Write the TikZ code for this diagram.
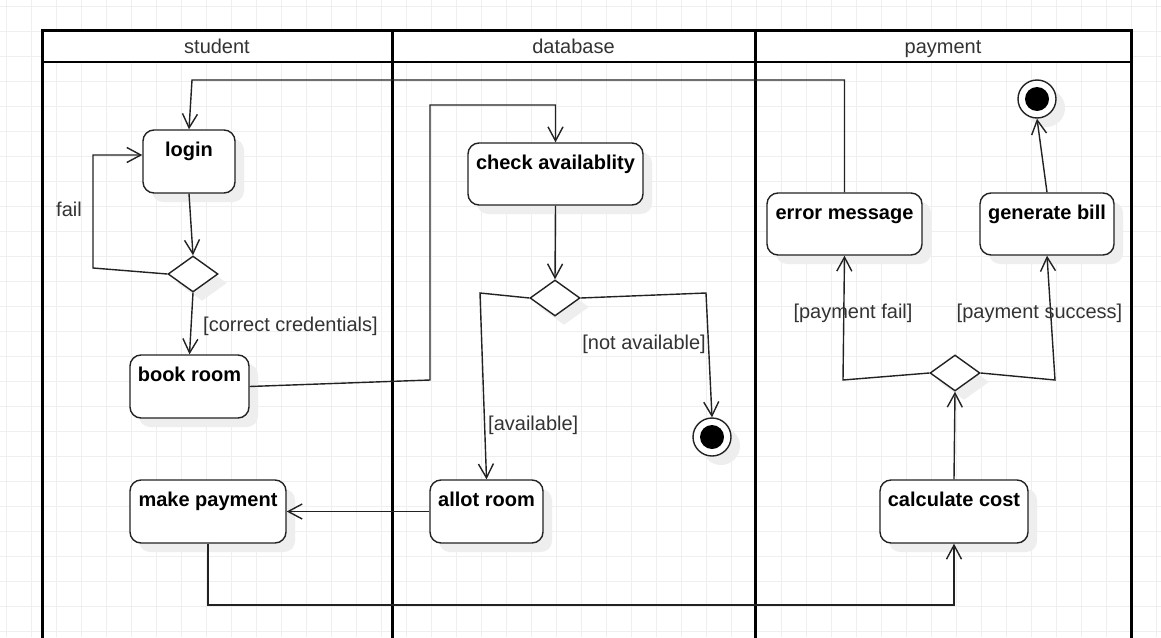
\documentclass[tikz,border=0pt]{standalone}
\usepackage{fontspec}
\setmainfont{Liberation Sans}
\usetikzlibrary{arrows.meta,shapes.geometric,shadows}
\definecolor{gridc}{HTML}{EFEFEF}
\definecolor{txt}{HTML}{333333}
\definecolor{shad}{HTML}{EEEEEE}
\definecolor{ln}{HTML}{222222}
\tikzset{
  x=1pt, y=-1pt,
  shd/.style={drop shadow={shadow xshift=9pt, shadow yshift=-9pt, fill=shad, opacity=1}},
  act/.style={draw=ln, line width=1.4pt, fill=white, rounded corners=11pt, inner sep=0pt, shd,
     minimum height=63pt},
  acttext/.style={anchor=base, yshift=-27pt, font=\fontsize{20}{24}\selectfont\bfseries, text=black, inner sep=0pt},
  dec/.style={diamond, draw=ln, line width=1.4pt, fill=white, inner sep=0pt, minimum width=50pt, minimum height=36pt, shd},
  finout/.style={circle, draw=ln, line width=1.4pt, fill=white, inner sep=0pt, minimum size=38pt, shd},
  finin/.style={circle, fill=black, inner sep=0pt, minimum size=24pt},
  flow/.style={draw=ln, line width=1.4pt, -{Straight Barb[length=14pt, width=15pt, line width=1.4pt]}},
  lbl/.style={font=\fontsize{20}{24}\selectfont, text=txt, inner sep=0pt},
  lane/.style={line width=3pt, draw=black},
}
\begin{document}
\begin{tikzpicture}
\useasboundingbox (0,0) rectangle (1161,637);
\clip (0,0) rectangle (1161,637);
\fill[white] (0,0) rectangle (1161,637);
% grid
\foreach \k in {0,...,46} {
  \draw[gridc, line width=1pt] (6.7+25*\k,0) -- (6.7+25*\k,637);
}
\foreach \k in {0,...,25} {
  \draw[gridc, line width=1pt] (0,6.7+25*\k) -- (1161,6.7+25*\k);
}
% pool
\fill[white] (42,30) rectangle (1131,62);
\draw[line width=2.2pt] (42,62) -- (1131,62);
\draw[lane] (42,660) -- (42,30) -- (1131,30) -- (1131,660);
\draw[lane] (392,30) -- (392,660);
\draw[lane] (755,30) -- (755,660);
\node[lbl, anchor=base] (hs) at (217,53) {student};
\node[lbl, anchor=base] (hd) at (573.5,53) {database};
\node[lbl, anchor=base] (hp) at (943,53) {payment};

% activities
\node[act, minimum width=92pt, label={[acttext]north:login}] (login) at (189,161.5) {};
\node[dec] (d1) at (193,274) {};
\node[act, minimum width=119pt, label={[acttext]north:book room}] (book) at (189.5,386.5) {};
\node[act, minimum width=156pt, label={[acttext]north:make payment}] (makepay) at (208,511.5) {};
\node[act, minimum width=175pt, minimum height=62pt, label={[acttext]north:check availablity}] (check) at (555.5,174) {};
\node[dec] (d2) at (555,298) {};
\node[act, minimum width=113pt, label={[acttext]north:allot room}] (allot) at (486.5,511.5) {};
\node[finout] (fin1) at (712,437) {};
\node[finin] (fin1c) at (712,437) {};
\node[act, minimum width=155pt, minimum height=62pt, label={[acttext]north:error message}] (errmsg) at (844.5,224) {};
\node[act, minimum width=134pt, minimum height=62pt, label={[acttext]north:generate bill}] (genbill) at (1047,224) {};
\node[finout] (fin2) at (1037,99) {};
\node[finin] (fin2c) at (1037,99) {};
\node[dec] (d3) at (955,373) {};
\node[act, minimum width=148pt, label={[acttext]north:calculate cost}] (calc) at (954,511.5) {};

% connectors
\draw[flow] (errmsg.north) -- (errmsg.north |- 0,80) -- (192,80) -- (login.north);
\draw[flow] (login.south) -- (d1.north);
\draw[flow] (d1.west) -- (93,268) -- (93,155) -- (login.west |- 0,155);
\draw[flow] (d1.south) -- (book.north);
\draw[flow] (book.east) -- (430,380) -- (430,105) -| (check.north);
\draw[flow] (check.south) -- (d2.north);
\draw[flow] (d2.west) -- (480,293) -- (allot.north);
\draw[flow] (d2.east) -- (706,293) -- (fin1.north);
\draw[flow] (allot.west) -- (makepay.east);
\draw[flow] (makepay.south) -- (makepay.south |- 0,605) -| (calc.south);
\draw[flow] (calc.north) -- (d3.south);
\draw[flow] (d3.west) -- (843,380) -- (errmsg.south);
\draw[flow] (d3.east) -- (1055,380) -- (genbill.south);
\draw[flow] (genbill.north) -- (fin2.south);

% labels
\node[lbl] (lfail) at (69,209) {fail};
\node[lbl, anchor=west] (lcc) at (203,326) {[correct credentials]};
\node[lbl, anchor=west] (lav) at (488,425) {[available]};
\node[lbl, anchor=east] (lna) at (706,344.5) {[not available]};
\node[lbl] (lpf) at (853,313) {[payment fail]};
\node[lbl] (lps) at (1039.5,313) {[payment success]};
\end{tikzpicture}
\end{document}
